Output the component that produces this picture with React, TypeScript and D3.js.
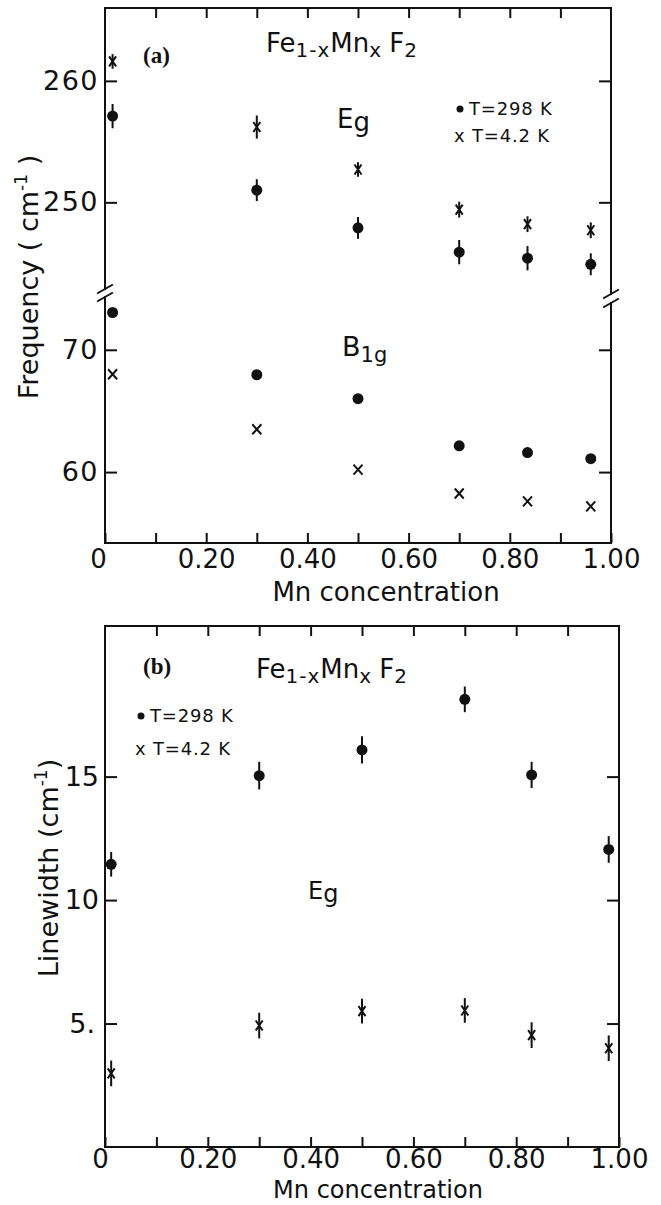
import React, { useEffect, useRef } from 'react';
import * as d3 from 'd3';

// panel (a): phonon frequency vs Mn concentration
const mnA = [0.015, 0.30, 0.50, 0.70, 0.835, 0.96];
const eg298 = [257.1, 251.0, 247.9, 245.9, 245.4, 244.9];
const eg298Err = [1.0, 0.9, 0.9, 1.0, 1.0, 0.9];
const eg42 = [261.6, 256.2, 252.7, 249.4, 248.2, 247.7];
const eg42Err = [0.6, 0.95, 0.6, 0.65, 0.65, 0.65];
const b1g298 = [73.05, 67.96, 66.0, 62.15, 61.6, 61.1];
const b1g42 = [68.0, 63.5, 60.2, 58.25, 57.6, 57.2];

// panel (b): Eg linewidth vs Mn concentration
const mnB = [0.012, 0.30, 0.50, 0.70, 0.83, 0.98];
const lw298 = [11.45, 15.04, 16.08, 18.13, 15.07, 12.05];
const lw298Err = [0.5, 0.56, 0.55, 0.52, 0.53, 0.54];
const lw42 = [2.98, 4.92, 5.5, 5.53, 4.53, 4.0];
const lw42Err = [0.52, 0.52, 0.5, 0.5, 0.52, 0.52];

// ticks
const xTicks = [0, 0.1, 0.2, 0.3, 0.4, 0.5, 0.6, 0.7, 0.8, 0.9, 1.0];
const xLabelled = [0, 0.2, 0.4, 0.6, 0.8, 1.0];
const freqUpperTicks = [250, 260];
const freqLowerTicks = [60, 70];
const widthTicks = [5, 10, 15];

const font = "'DejaVu Sans', sans-serif";
const ink = '#111';

const App = () => {
  const ref = useRef(null);

  useEffect(() => {
    const svg = d3.select(ref.current);
    svg.selectAll('*').remove();

    const xFmt = d => (d === 0 ? '0' : d3.format('.2f')(d));

    const styleAxis = g => {
      g.select('.domain').remove();
      g.attr('color', ink);
      g.selectAll('line').attr('stroke-width', 2);
      g.selectAll('text')
        .attr('font-family', font)
        .attr('font-size', 26)
        .attr('fill', ink);
    };

    const line = (g, x1, y1, x2, y2) =>
      g.append('line')
        .attr('x1', x1).attr('y1', y1)
        .attr('x2', x2).attr('y2', y2)
        .attr('stroke', ink)
        .attr('stroke-width', 2)
        .attr('stroke-linecap', 'square');

    const dots = (g, xs, ys, x, y, r) =>
      g.append('g').selectAll('circle')
        .data(xs).enter()
        .append('circle')
        .attr('cx', d => x(d))
        .attr('cy', (d, i) => y(ys[i]))
        .attr('r', r)
        .attr('fill', ink);

    const crosses = (g, xs, ys, x, y, w, h) =>
      g.append('g').selectAll('path')
        .data(xs).enter()
        .append('path')
        .attr('d', (d, i) => {
          const cx = x(d), cy = y(ys[i]);
          return `M${cx - w},${cy - h}L${cx + w},${cy + h}M${cx - w},${cy + h}L${cx + w},${cy - h}`;
        })
        .attr('stroke', ink)
        .attr('stroke-width', 2)
        .attr('fill', 'none');

    const errBars = (g, xs, ys, es, x, y) =>
      g.append('g').selectAll('line')
        .data(xs).enter()
        .append('line')
        .attr('x1', d => x(d)).attr('x2', d => x(d))
        .attr('y1', (d, i) => y(ys[i] - es[i]))
        .attr('y2', (d, i) => y(ys[i] + es[i]))
        .attr('stroke', ink)
        .attr('stroke-width', 2);

    const formula = (g, x, y) => {
      const t = g.append('text')
        .attr('x', x).attr('y', y)
        .attr('font-family', font)
        .attr('fill', ink);
      t.append('tspan').attr('font-size', 26).text('Fe');
      t.append('tspan').attr('font-size', 20).attr('dy', 5).attr('letter-spacing', 1).text('1-x');
      t.append('tspan').attr('font-size', 26).attr('dy', -5).text('Mn');
      t.append('tspan').attr('font-size', 20).attr('dy', 5).text('x');
      t.append('tspan').attr('font-size', 26).attr('dy', -5).text(' F');
      t.append('tspan').attr('font-size', 20).attr('dy', 5).text('2');
    };

    const legend = (g, x, y1, y2) => {
      g.append('circle').attr('cx', x + 4).attr('cy', y1 - 6).attr('r', 3.5).attr('fill', ink);
      g.append('text').attr('x', x + 13).attr('y', y1)
        .attr('font-family', font).attr('font-size', 18).attr('letter-spacing', 0.8)
        .attr('fill', ink).text('T=298 K');
      g.append('text').attr('x', x - 2).attr('y', y2)
        .attr('font-family', font).attr('font-size', 18).attr('letter-spacing', 0.8)
        .attr('fill', ink).text('x T=4.2 K');
    };

    const mode = (g, x, y, main, sub, size, subSize, shift) => {
      const t = g.append('text').attr('x', x).attr('y', y)
        .attr('font-family', font).attr('fill', ink);
      t.append('tspan').attr('font-size', size).text(main);
      t.append('tspan').attr('font-size', subSize).attr('dy', shift).text(sub);
    };

    // ---------------- panel (a) ----------------
    const a = svg.append('g');
    const xa = d3.scaleLinear().domain([0, 1]).range([105, 611]);
    const yUp = d3.scaleLinear().domain([242.7, 266]).range([291, 8]);
    const yLo = d3.scaleLinear().domain([54.2, 74.4]).range([543, 296]);
    const [aL, aR] = xa.range();
    const aTop = yUp.range()[1];
    const aBot = yLo.range()[0];

    // frame with broken vertical axes
    line(a, aL, aTop, aR, aTop);
    line(a, aL, aBot, aR, aBot);
    line(a, aL, aTop, aL, yUp.range()[0] - 2);
    line(a, aL, yLo.range()[1] + 1, aL, aBot);
    line(a, aR, aTop, aR, yUp.range()[0] + 3);
    line(a, aR, yLo.range()[1] + 7, aR, aBot);
    // break marks
    [yUp.range()[0] - 2, yLo.range()[1] + 1].forEach(yy => line(a, aL - 7, yy + 4, aL + 7, yy - 4));
    [yUp.range()[0] + 3, yLo.range()[1] + 7].forEach(yy => line(a, aR - 7, yy + 4, aR + 7, yy - 4));

    a.append('g').attr('transform', `translate(0,${aBot})`)
      .call(d3.axisBottom(xa).tickValues(xTicks).tickSize(-10).tickPadding(7)
        .tickFormat(d => (xLabelled.includes(d) ? xFmt(d) : '')))
      .call(styleAxis)
      .call(g => g.selectAll('text').filter(d => d === 0).attr('dx', -7));
    a.append('g').attr('transform', `translate(0,${aTop})`)
      .call(d3.axisTop(xa).tickValues(xTicks.slice(1, -1)).tickSize(-10).tickFormat(() => ''))
      .call(styleAxis);

    [[yUp, freqUpperTicks], [yLo, freqLowerTicks]].forEach(([y, ticks]) => {
      a.append('g').attr('transform', `translate(${aL},0)`)
        .call(d3.axisLeft(y).tickValues(ticks).tickSize(-12).tickPadding(6))
        .call(styleAxis)
        .call(g => g.selectAll('text').attr('font-size', 27).attr('letter-spacing', 1.5));
      a.append('g').attr('transform', `translate(${aR},0)`)
        .call(d3.axisRight(y).tickValues(ticks).tickSize(-12).tickFormat(() => ''))
        .call(styleAxis);
    });

    errBars(a, mnA, eg298, eg298Err, xa, yUp);
    dots(a, mnA, eg298, xa, yUp, 5.5);
    errBars(a, mnA, eg42, eg42Err, xa, yUp);
    crosses(a, mnA, eg42, xa, yUp, 3.5, 5);
    dots(a, mnA, b1g298, xa, yLo, 5.5);
    crosses(a, mnA, b1g42, xa, yLo, 4.5, 5);

    a.append('text').attr('x', 143).attr('y', 63)
      .attr('font-family', "'Liberation Serif', serif").attr('font-weight', 'bold')
      .attr('font-size', 23).attr('fill', ink).text('(a)');
    formula(a, 266, 52);
    mode(a, 337, 128, 'E', 'g', 26, 26, 3);
    mode(a, 342, 356, 'B', '1g', 27, 21, 6);
    legend(a, 456, 115, 142);

    a.append('text')
      .attr('transform', 'translate(38,277) rotate(-90)')
      .attr('text-anchor', 'middle')
      .attr('font-family', font).attr('font-size', 27).attr('fill', ink)
      .call(t => {
        t.append('tspan').text('Frequency ( cm');
        t.append('tspan').attr('font-size', 17).attr('dy', -11).text('-1');
        t.append('tspan').attr('dy', 11).text(' )');
      });
    a.append('text').attr('x', 386).attr('y', 601)
      .attr('text-anchor', 'middle')
      .attr('font-family', font).attr('font-size', 26).attr('fill', ink)
      .text('Mn concentration');

    // ---------------- panel (b) ----------------
    const b = svg.append('g');
    const xb = d3.scaleLinear().domain([0, 1]).range([105, 619]);
    const yb = d3.scaleLinear().domain([0, 21.1]).range([1147, 626]);
    const [bL, bR] = xb.range();
    const [bBot, bTop] = yb.range();

    line(b, bL, bTop, bR, bTop);
    line(b, bL, bBot, bR, bBot);
    line(b, bL, bTop, bL, bBot);
    line(b, bR, bTop, bR, bBot);

    b.append('g').attr('transform', `translate(0,${bBot})`)
      .call(d3.axisBottom(xb).tickValues(xTicks).tickSize(-10).tickPadding(3)
        .tickFormat(d => (xLabelled.includes(d) ? xFmt(d) : '')))
      .call(styleAxis)
      .call(g => g.selectAll('text').filter(d => d === 0).attr('dx', -5));
    b.append('g').attr('transform', `translate(0,${bTop})`)
      .call(d3.axisTop(xb).tickValues(xTicks.slice(1, -1)).tickSize(-10).tickFormat(() => ''))
      .call(styleAxis);
    b.append('g').attr('transform', `translate(${bL},0)`)
      .call(d3.axisLeft(yb).tickValues(widthTicks).tickSize(-12).tickPadding(6)
        .tickFormat(d => (d === 5 ? '5.' : String(d))))
      .call(styleAxis)
      .call(g => g.selectAll('text').attr('font-size', 27))
      .call(g => g.selectAll('text').filter(d => d === 5).attr('dx', -4));
    b.append('g').attr('transform', `translate(${bR},0)`)
      .call(d3.axisRight(yb).tickValues(widthTicks).tickSize(-12).tickFormat(() => ''))
      .call(styleAxis);

    errBars(b, mnB, lw298, lw298Err, xb, yb);
    dots(b, mnB, lw298, xb, yb, 5.5);
    errBars(b, mnB, lw42, lw42Err, xb, yb);
    crosses(b, mnB, lw42, xb, yb, 3.5, 5);

    b.append('text').attr('x', 143).attr('y', 674)
      .attr('font-family', "'Liberation Serif', serif").attr('font-weight', 'bold')
      .attr('font-size', 23).attr('fill', ink).text('(b)');
    formula(b, 256, 678);
    mode(b, 308, 899, 'E', 'g', 24, 24, 3);
    legend(b, 137, 722, 755);

    b.append('text')
      .attr('transform', 'translate(58,868) rotate(-90)')
      .attr('text-anchor', 'middle')
      .attr('font-family', font).attr('font-size', 27).attr('fill', ink)
      .call(t => {
        t.append('tspan').text('Linewidth (cm');
        t.append('tspan').attr('font-size', 17).attr('dy', -11).text('-1');
        t.append('tspan').attr('dy', 11).text(')');
      });
    b.append('text').attr('x', 378).attr('y', 1198)
      .attr('text-anchor', 'middle')
      .attr('font-family', font).attr('font-size', 24).attr('fill', ink)
      .text('Mn concentration');
  }, []);

  return (
    <svg
      ref={ref}
      width={661}
      height={1205}
      style={{ position: 'absolute', left: 0, top: 0, background: '#fff' }}
    />
  );
};

export default App;
